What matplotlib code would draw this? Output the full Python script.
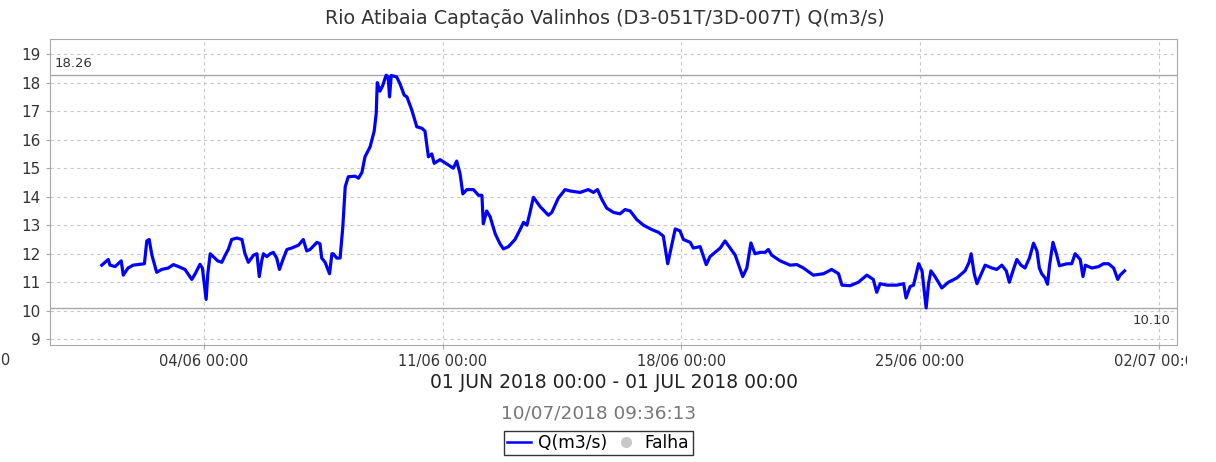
import datetime as dt

import matplotlib
matplotlib.use('Agg')
import matplotlib.dates as mdates
import matplotlib.pyplot as plt
from matplotlib.lines import Line2D
from matplotlib.patches import Rectangle

TITLE = 'Rio Atibaia Captação Valinhos (D3-051T/3D-007T) Q(m3/s)'
PERIOD = '01 JUN 2018 00:00 - 01 JUL 2018 00:00'
STAMP = '10/07/2018 09:36:13'
START = dt.datetime(2018, 6, 1)

# days since 01/06 00:00, flow in m3/s
DAYS = [
    0.00, 0.19, 0.24, 0.39, 0.57, 0.63, 0.77, 0.92, 1.25, 1.32, 1.39, 1.47,
    1.61, 1.76, 1.95, 2.10, 2.25, 2.44, 2.64, 2.74, 2.88, 2.95, 3.06, 3.11,
    3.18, 3.27, 3.40, 3.52, 3.62, 3.71, 3.81, 3.96, 4.11, 4.20, 4.30, 4.45,
    4.55, 4.62, 4.69, 4.74, 4.84, 4.94, 5.03, 5.13, 5.21, 5.33, 5.43, 5.57,
    5.77, 5.91, 6.01, 6.11, 6.31, 6.40, 6.45, 6.55, 6.68, 6.75, 6.79, 6.89,
    6.99, 7.07, 7.14, 7.23, 7.43, 7.53, 7.63, 7.72, 7.87, 7.99, 8.05, 8.08,
    8.16, 8.24, 8.34, 8.40, 8.44, 8.49, 8.65, 8.75, 8.87, 8.95, 9.09, 9.24,
    9.39, 9.48, 9.58, 9.68, 9.75, 9.92, 10.12, 10.31, 10.41, 10.51, 10.59,
    10.71, 10.90, 11.05, 11.15, 11.19, 11.29, 11.39, 11.54, 11.68, 11.78,
    11.93, 12.12, 12.27, 12.37, 12.47, 12.56, 12.66, 12.86, 13.10, 13.20,
    13.39, 13.59, 13.74, 14.03, 14.27, 14.42, 14.54, 14.67, 14.81, 15.01,
    15.20, 15.35, 15.50, 15.69, 15.89, 16.13, 16.33, 16.47, 16.60, 16.82,
    16.96, 17.06, 17.26, 17.35, 17.55, 17.73, 17.84, 18.04, 18.14, 18.28,
    18.43, 18.58, 18.80, 18.92, 19.04, 19.16, 19.31, 19.46, 19.55, 19.65,
    19.90, 20.19, 20.39, 20.58, 20.87, 21.17, 21.41, 21.61, 21.71, 21.95,
    22.19, 22.44, 22.63, 22.73, 22.83, 23.03, 23.32, 23.52, 23.59, 23.71,
    23.81, 23.89, 23.96, 24.06, 24.10, 24.18, 24.25, 24.32, 24.44, 24.64,
    24.83, 25.08, 25.32, 25.44, 25.50, 25.59, 25.67, 25.91, 26.11, 26.25,
    26.40, 26.53, 26.62, 26.74, 26.84, 26.96, 27.08, 27.21, 27.33, 27.43,
    27.50, 27.57, 27.67, 27.74, 27.80, 27.90, 28.00, 28.09, 28.31, 28.45,
    28.55, 28.70, 28.78, 28.85, 29.04, 29.24, 29.38, 29.53, 29.68, 29.80,
    29.87, 30.00,
]
FLOW = [
    11.60, 11.80, 11.60, 11.55, 11.75, 11.25, 11.50, 11.60, 11.65, 12.45, 12.50, 11.95,
    11.35, 11.45, 11.50, 11.62, 11.55, 11.45, 11.10, 11.30, 11.63, 11.50, 10.40, 11.30,
    12.00, 11.90, 11.75, 11.70, 11.95, 12.15, 12.50, 12.55, 12.50, 12.00, 11.70, 11.95,
    12.00, 11.20, 11.75, 12.00, 11.90, 12.00, 12.05, 11.85, 11.45, 11.85, 12.15, 12.20,
    12.30, 12.50, 12.10, 12.15, 12.40, 12.35, 11.85, 11.70, 11.30, 12.00, 12.00, 11.85,
    11.85, 12.95, 14.35, 14.70, 14.72, 14.65, 14.85, 15.40, 15.75, 16.30, 16.93, 18.00,
    17.70, 17.90, 18.26, 18.20, 17.50, 18.25, 18.20, 17.95, 17.56, 17.50, 17.05, 16.45,
    16.40, 16.30, 15.40, 15.50, 15.17, 15.30, 15.15, 15.00, 15.25, 14.80, 14.10,
    14.25, 14.25, 14.05, 14.05, 13.05, 13.50, 13.30, 12.70, 12.35, 12.17,
    12.25, 12.50, 12.85, 13.10, 13.00, 13.45, 13.98, 13.65, 13.35, 13.45,
    13.95, 14.25, 14.20, 14.15, 14.25, 14.15, 14.25, 13.90, 13.60, 13.45,
    13.40, 13.55, 13.50, 13.20, 13.00, 12.85, 12.75, 12.62, 11.65, 12.87,
    12.80, 12.50, 12.40, 12.20, 12.25, 11.62, 11.90, 12.10, 12.20, 12.45,
    12.20, 11.95, 11.20, 11.50, 12.38, 12.00, 12.05, 12.05, 12.15, 11.95,
    11.75, 11.60, 11.62, 11.50, 11.25, 11.30, 11.45, 11.30, 10.90, 10.88,
    11.00, 11.25, 11.10, 10.65, 10.95, 10.90, 10.90, 10.95, 10.45, 10.85,
    10.90, 11.30, 11.65, 11.40, 10.95, 10.10, 10.95, 11.40, 11.20, 10.80,
    11.00, 11.15, 11.40, 11.70, 12.00, 11.30, 10.95, 11.60, 11.50, 11.45,
    11.60, 11.40, 11.00, 11.45, 11.80, 11.60, 11.50, 11.85, 12.37, 12.10,
    11.50, 11.30, 11.15, 10.93, 11.60, 12.40, 12.00, 11.58, 11.65, 11.65,
    12.00, 11.80, 11.20, 11.60, 11.50, 11.55, 11.65, 11.65, 11.50, 11.10,
    11.25, 11.40,
]
Q_MAX = 18.26
Q_MIN = 10.10
YTICKS = list(range(9, 20))

times = [START + dt.timedelta(days=d) for d in DAYS]

fig = plt.figure(figsize=(12.16, 4.62), dpi=100, facecolor='white')
ax = fig.add_axes([0.0411, 0.2532, 0.9266, 0.6624])

ax.plot(times, FLOW, color='#0000ff', lw=2.3, solid_joinstyle='round')

# max / min marker lines
ax.axhline(Q_MAX, color='#a8a8a8', lw=1.0, zorder=1)
ax.axhline(Q_MIN, color='#a8a8a8', lw=1.0, zorder=1)
ax.text(0.004, Q_MAX + 0.2, f'{Q_MAX:.2f}', transform=ax.get_yaxis_transform(),
        ha='left', va='bottom', fontsize=9.5, color='#333333')
ax.text(0.994, Q_MIN - 0.22, f'{Q_MIN:.2f}', transform=ax.get_yaxis_transform(),
        ha='right', va='top', fontsize=9.5, color='#333333')

ax.set_xlim(START - dt.timedelta(days=1.52), START + dt.timedelta(days=31.53))
ax.set_ylim(8.8, 19.53)
ax.set_yticks(YTICKS)
ax.xaxis.set_major_locator(mdates.WeekdayLocator(byweekday=mdates.MO))
ax.xaxis.set_major_formatter(mdates.DateFormatter('%d/%m %H:%M'))

# tick that falls just outside the left edge, partly visible
ax.annotate('28/05 00:00', xy=(dt.datetime(2018, 5, 28), 0),
            xycoords=('data', 'axes fraction'), xytext=(0, -6),
            textcoords='offset points', ha='center', va='top', fontsize=10.5,
            color='#333333', annotation_clip=False)

ax.grid(True, color='#c8c8c8', ls=(0, (3, 3)), lw=0.8)
ax.set_axisbelow(True)
for s in ax.spines.values():
    s.set_color('#a8a8a8')
ax.tick_params(axis='both', colors='#a8a8a8', labelcolor='#333333',
               length=3, labelsize=10.5)
ax.tick_params(axis='y', labelsize=11)

# the right-most tick label is cut at the chart's edge
fig.patches.append(Rectangle((1187 / 1216, 0.2), 1 - 1187 / 1216, 0.05,
                             transform=fig.transFigure, facecolor='white',
                             edgecolor='none', zorder=10))

fig.text(0.4975, 0.96, TITLE, ha='center', va='center', fontsize=13.8,
         color='#333333')
fig.text(0.505, 0.171, PERIOD, ha='center', va='center', fontsize=13.5,
         color='#222222')
fig.text(0.492, 0.105, STAMP, ha='center', va='center', fontsize=13.3,
         color='#777777')

handles = [Line2D([], [], color='#0000ff', lw=1.8),
           Line2D([], [], color='#c8c8c8', marker='o', ls='none', ms=7)]
leg = fig.legend(handles, ['Q(m3/s)', 'Falha'], loc='center',
                 bbox_to_anchor=(0.492, 0.041), ncol=2, fontsize=12.3,
                 frameon=True, fancybox=False, handlelength=1.4,
                 handletextpad=0.4, columnspacing=0.4, borderpad=0.2,
                 borderaxespad=0)
leg.get_frame().set_edgecolor('#000000')
leg.get_frame().set_linewidth(1.0)

fig.savefig('out.png', dpi=100, facecolor='white')
